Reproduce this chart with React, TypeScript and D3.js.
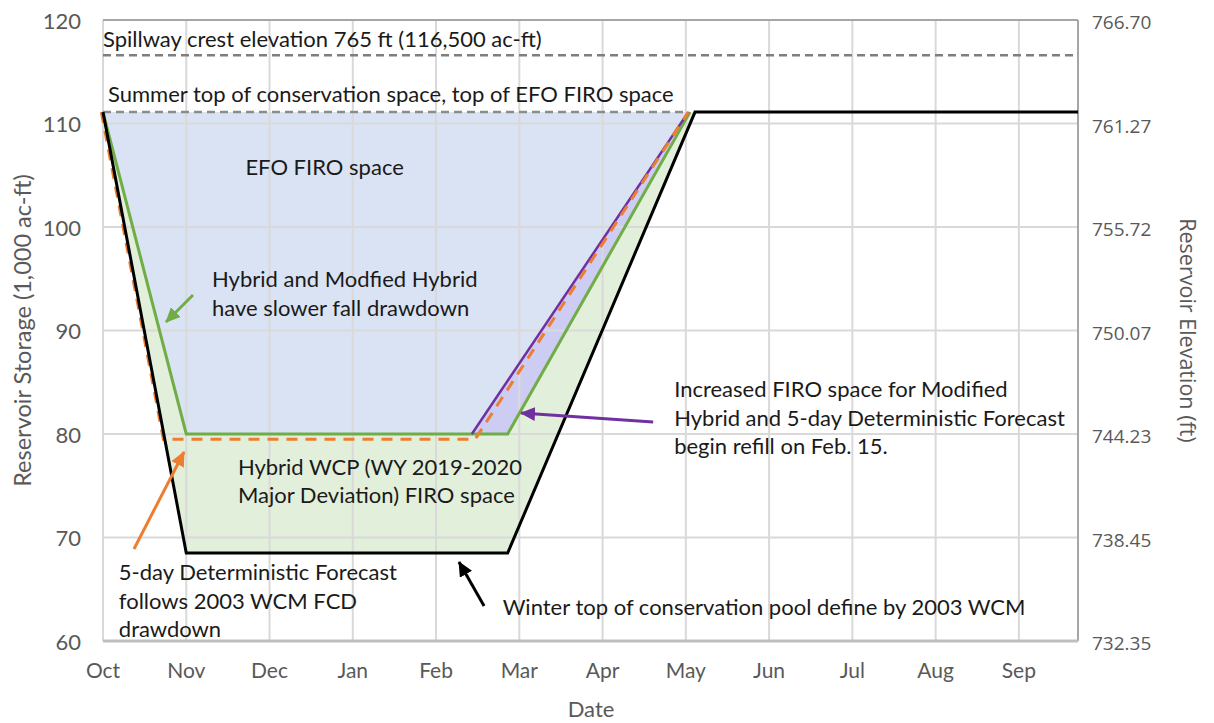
import React from 'react';
import * as d3 from 'd3';

// months since Oct 1 on the x axis
const months = ['Oct', 'Nov', 'Dec', 'Jan', 'Feb', 'Mar', 'Apr', 'May', 'Jun', 'Jul', 'Aug', 'Sep'];
const storageTicks = [60, 70, 80, 90, 100, 110, 120];
const elevationLabels = ['732.35', '738.45', '744.23', '750.07', '755.72', '761.27', '766.70'];

const spillwayStorage = 116.6;
const summerTop = 111.1;

// 2003 WCM top of conservation (black)
const wcmX = [0, 1.0, 4.86, 7.11, 11.71];
const wcmY = [111.1, 68.5, 68.5, 111.1, 111.1];
// Hybrid WCP (green)
const hybridX = [0, 1.0, 4.86, 7.05];
const hybridY = [111.1, 80, 80, 111.1];
// Modified Hybrid (purple)
const modHybridX = [4.43, 7.03];
const modHybridY = [80, 111.1];
// 5-day deterministic forecast (orange dashed)
const forecastX = [-0.02, 0.725, 4.47, 7.03];
const forecastY = [111.1, 79.5, 79.5, 111.1];

const W = 1214;
const H = 723;
const margin = { top: 20, right: 136, bottom: 82, left: 103 };

const font = 'Lato, "Open Sans", sans-serif';

const App = () => {
  const x = d3.scaleLinear().domain([0, 11.71]).range([margin.left, W - margin.right]);
  const y = d3.scaleLinear().domain([60, 120]).range([H - margin.bottom, margin.top]);

  const line = d3.line<[number, number]>().x(d => x(d[0])).y(d => y(d[1]));
  const zip = (xs: number[], ys: number[]) => xs.map((v, i) => [v, ys[i]] as [number, number]);

  const wcm = zip(wcmX, wcmY);
  const hybrid = zip(hybridX, hybridY);
  const modHybrid = zip(modHybridX, modHybridY);
  const forecast = zip(forecastX, forecastY);

  // fills
  const greenArea = line(wcm.slice(0, 4)) + 'Z';
  const lavenderArea = line(hybrid) + 'Z';
  const blueArea = line([...hybrid.slice(0, 2), [modHybridX[0], 80], ...modHybrid.slice(1)]) + 'Z';

  // annotations: x, baseline y (data units), lines
  const notes: { x: number; y: number; lines: string[] }[] = [
    { x: 0.0, y: 117.39, lines: ['Spillway crest elevation 765 ft (116,500 ac-ft)'] },
    { x: 0.06, y: 112.08, lines: ['Summer top of conservation space, top of EFO FIRO space'] },
    { x: 1.71, y: 105.02, lines: ['EFO FIRO space'] },
    { x: 1.31, y: 94.2, lines: ['Hybrid and Modfied Hybrid', 'have slower fall drawdown'] },
    { x: 6.86, y: 83.57, lines: ['Increased FIRO space for Modified', 'Hybrid and 5-day Deterministic Forecast', 'begin refill on Feb. 15.'] },
    { x: 1.62, y: 76.04, lines: ['Hybrid WCP (WY 2019-2020', 'Major Deviation) FIRO space'] },
    { x: 0.19, y: 65.89, lines: ['5-day Deterministic Forecast', 'follows 2003 WCM FCD', 'drawdown'] },
    { x: 4.80, y: 62.51, lines: ['Winter top of conservation pool define by 2003 WCM'] },
  ];

  const arrows: { from: [number, number]; to: [number, number]; color: string; id: string }[] = [
    { from: [1.081, 93.43], to: [0.757, 90.82], color: '#70AD47', id: 'ag' },
    { from: [6.607, 81.16], to: [5.021, 82.03], color: '#7030A0', id: 'ap' },
    { from: [0.372, 68.89], to: [0.973, 78.26], color: '#ED7D31', id: 'ao' },
    { from: [4.577, 63.38], to: [4.276, 67.63], color: '#000000', id: 'ak' },
  ];

  const xTicks = months.map((_, i) => i);

  return (
    <svg width={W} height={H} style={{ position: 'absolute', left: 0, top: 0, background: '#fff' }}>
      <defs>
        {arrows.map(a => (
          <marker key={a.id} id={a.id} markerUnits="userSpaceOnUse" markerWidth={16} markerHeight={14}
            refX={14} refY={7} orient="auto">
            <path d="M0,0 L15,7 L0,14 Z" fill={a.color} />
          </marker>
        ))}
      </defs>

      {/* fills */}
      <path d={greenArea} fill="#E2EFDA" />
      <path d={lavenderArea} fill="#CDCCF3" />
      <path d={blueArea} fill="#DAE3F3" />

      {/* gridlines */}
      {storageTicks.map(t => (
        <line key={'h' + t} x1={x(0)} x2={x(11.71)} y1={y(t)} y2={y(t)} stroke="#D9D9D9" strokeWidth={2} />
      ))}
      {xTicks.map(t => (
        <line key={'v' + t} x1={x(t)} x2={x(t)} y1={y(60)} y2={y(120)} stroke="#D9D9D9" strokeWidth={2} />
      ))}
      <line x1={x(0)} x2={x(11.71)} y1={y(120)} y2={y(120)} stroke="#A6A6A6" strokeWidth={2} />
      <line x1={x(11.71)} x2={x(11.71)} y1={y(60)} y2={y(120)} stroke="#A6A6A6" strokeWidth={2} />
      <line x1={x(0)} x2={x(11.71)} y1={y(60)} y2={y(60)} stroke="#BFBFBF" strokeWidth={3} />

      {/* reference dashed lines */}
      <line x1={x(0)} x2={x(11.71)} y1={y(spillwayStorage)} y2={y(spillwayStorage)}
        stroke="#7F7F7F" strokeWidth={2.5} strokeDasharray="8,5" />
      <line x1={x(0)} x2={x(7.03)} y1={y(summerTop)} y2={y(summerTop)}
        stroke="#8C8C8C" strokeWidth={2.5} strokeDasharray="8,5" />

      {/* lines */}
      <path d={line(hybrid) || ''} fill="none" stroke="#70AD47" strokeWidth={3} />
      <path d={line(modHybrid) || ''} fill="none" stroke="#7030A0" strokeWidth={2.5} />
      <path d={line(forecast) || ''} fill="none" stroke="#ED7D31" strokeWidth={3} strokeDasharray="11,8" />
      <path d={line(wcm) || ''} fill="none" stroke="#000" strokeWidth={3} />

      {/* arrows */}
      {arrows.map(a => (
        <line key={a.id} x1={x(a.from[0])} y1={y(a.from[1])} x2={x(a.to[0])} y2={y(a.to[1])}
          stroke={a.color} strokeWidth={3} markerEnd={`url(#${a.id})`} />
      ))}

      {/* annotation text */}
      {notes.map((n, i) => (
        <text key={i} x={x(n.x)} y={y(n.y)} fontFamily={font} fontSize={22} fill="#1a1a1a">
          {n.lines.map((l, j) => (
            <tspan key={j} x={x(n.x)} dy={j === 0 ? 0 : 28.5}>{l}</tspan>
          ))}
        </text>
      ))}

      {/* left axis */}
      {storageTicks.map(t => (
        <text key={'l' + t} x={81} y={y(t)} textAnchor="end" dominantBaseline="central"
          fontFamily={font} fontSize={22} fill="#595959">{t}</text>
      ))}
      {/* right axis */}
      {storageTicks.map((t, i) => (
        <text key={'r' + t} x={1092} y={y(t) + 2} dominantBaseline="central"
          fontFamily='"Open Sans", sans-serif' fontSize={19} fill="#595959">{elevationLabels[i]}</text>
      ))}
      {/* x axis */}
      {xTicks.map(t => (
        <text key={'x' + t} x={x(t)} y={678} textAnchor="middle"
          fontFamily={font} fontSize={21} fill="#595959">{months[t]}</text>
      ))}

      <text x={591} y={717} textAnchor="middle" fontFamily={font} fontSize={22} fill="#595959">Date</text>
      <text transform={`translate(22,${y(90)}) rotate(-90)`} textAnchor="middle" dominantBaseline="central"
        fontFamily={font} fontSize={23.5} fill="#595959">Reservoir Storage (1,000 ac-ft)</text>
      <text transform={`translate(1188,${y(90)}) rotate(90)`} textAnchor="middle" dominantBaseline="central"
        fontFamily='"Open Sans", sans-serif' fontSize={21.5} fill="#595959">Reservoir Elevation (ft)</text>
    </svg>
  );
};

export default App;
